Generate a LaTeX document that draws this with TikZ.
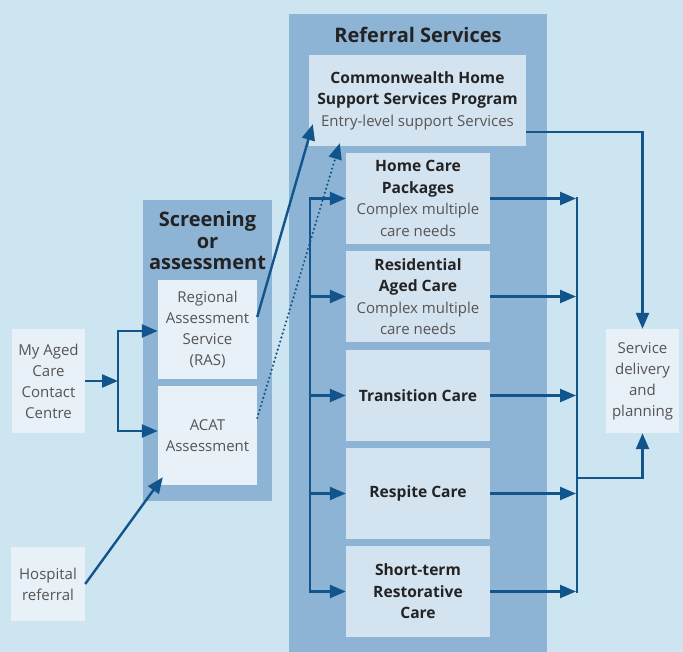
\documentclass[tikz,border=0pt]{standalone}
\usepackage{fontspec}
\setmainfont{Open Sans}
\usetikzlibrary{arrows.meta}
\definecolor{bgc}{RGB}{205,228,241}
\definecolor{panelc}{RGB}{141,180,213}
\definecolor{lboxc}{RGB}{232,240,248}
\definecolor{rboxc}{RGB}{212,227,240}
\definecolor{arrc}{RGB}{18,85,140}
\definecolor{txtc}{RGB}{85,85,85}
\definecolor{boldc}{RGB}{35,35,35}
\newcommand{\bt}[1]{{\bfseries\color{boldc}\fontsize{15.6}{21.5}\selectfont #1}}
\begin{document}
\begin{tikzpicture}[x=1pt,y=-1pt,
  panel/.style={fill=panelc,draw=none,inner sep=0pt},
  lbox/.style={fill=lboxc,draw=none,inner sep=0pt,align=center,text=txtc,font=\fontsize{15}{21}\selectfont},
  rbox/.style={fill=rboxc,draw=none,inner sep=0pt,align=center,text=txtc,font=\fontsize{15}{21.5}\selectfont},
  ttl/.style={align=center,text=boldc,font=\bfseries\fontsize{20}{21.5}\selectfont},
  conn/.style={draw=arrc,line width=2.4pt},
  arr/.style={conn,-{Triangle[length=16pt,width=13pt]}},
  dotarr/.style={draw=arrc,line width=2.4pt,line cap=round,dash pattern=on 0pt off 4.2pt,-{Triangle[length=16pt,width=13pt,line cap=butt]}},
]
\useasboundingbox (0,0) rectangle (683,652);
\fill[bgc] (0,0) rectangle (683,652);
% panels
\node[panel,minimum width=258pt,minimum height=638pt] (refp) at (418,333) {};
\node[panel,minimum width=129pt,minimum height=301pt] (scrp) at (207.5,350.5) {};
\node[ttl] (reft) at (418,35) {Referral Services};
\node[ttl,font=\bfseries\fontsize{20}{21.5}\selectfont] (scrt) at (207.5,241) {Screening\\or\\assessment};
% left boxes
\node[lbox,minimum width=73pt,minimum height=104pt] (mac) at (48.5,381) {My Aged\\Care\\Contact\\Centre};
\node[lbox,minimum width=74pt,minimum height=74pt] (hosp) at (48,584) {Hospital\\referral};
\node[lbox,minimum width=99pt,minimum height=99pt] (ras) at (207.5,329.5) {Regional\\Assessment\\Service\\(RAS)};
\node[lbox,minimum width=99pt,minimum height=99pt] (acat) at (207.5,435.5) {ACAT\\Assessment};
% referral boxes
\node[rbox,minimum width=217pt,minimum height=91pt] (chssp) at (417.5,100.5) {\bt{Commonwealth Home}\\\bt{Support Services Program}\\Entry-level support Services};
\node[rbox,minimum width=144pt,minimum height=91pt] (hcp) at (418,198.5) {\bt{Home Care}\\\bt{Packages}\\Complex multiple\\care needs};
\node[rbox,minimum width=144pt,minimum height=91pt] (res) at (418,296.5) {\bt{Residential}\\\bt{Aged Care}\\Complex multiple\\care needs};
\node[rbox,minimum width=144pt,minimum height=91pt] (trans) at (418,395.5) {\bt{Transition Care}};
\node[rbox,minimum width=144pt,minimum height=91pt] (resp) at (418,493.5) {\bt{Respite Care}};
\node[rbox,minimum width=144pt,minimum height=91pt] (short) at (418,591.5) {\bt{Short-term}\\\bt{Restorative}\\\bt{Care}};
% service delivery
\node[lbox,minimum width=73pt,minimum height=104pt] (sdp) at (642.5,381) {Service\\delivery\\and\\planning};
% left connectors
\coordinate (lbt) at (118,331);
\coordinate (lbb) at (118,431);
\coordinate (lbm) at (118,381);
\draw[arr] (mac.east) -- (lbm);
\draw[conn] (lbt) -- (lbb);
\draw[arr] ([xshift=-1.2pt]lbt) -- (lbt -| ras.west);
\draw[arr] ([xshift=-1.2pt]lbb) -- (lbb -| acat.west);
\draw[arr] (hosp.east) -- ([xshift=5pt,yshift=8pt]acat.south west);
\draw[arr] ([yshift=12.5pt]ras.east) -- ([xshift=4pt,yshift=22pt]chssp.south west);
\draw[dotarr] ([yshift=17.5pt]acat.east) -- ([xshift=31pt,yshift=3pt]chssp.south west);
% referral left bus
\coordinate (rbt) at (310,198.5);
\coordinate (rbb) at (310,591.5);
\draw[conn] (rbt) -- (rbb);
\foreach \n in {hcp,res,trans,resp,short}{
  \draw[arr] ([xshift=-1.2pt]rbt |- \n.west) -- (\n.west);
}
% right bus
\coordinate (qbt) at (577,198.5);
\coordinate (qbb) at (577,591.5);
\draw[conn] ([yshift=1.2pt]qbt) -- ([yshift=-1.2pt]qbb);
\foreach \n in {hcp,res,trans,resp,short}{
  \draw[arr] (\n.east) -- ([xshift=-1pt]qbt |- \n.east);
}
\coordinate (qbj) at (577,478);
\draw[arr] (qbj) -| (sdp.south);
\draw[arr] ([yshift=14pt]chssp.south east) -| (sdp.north);
\end{tikzpicture}
\end{document}
